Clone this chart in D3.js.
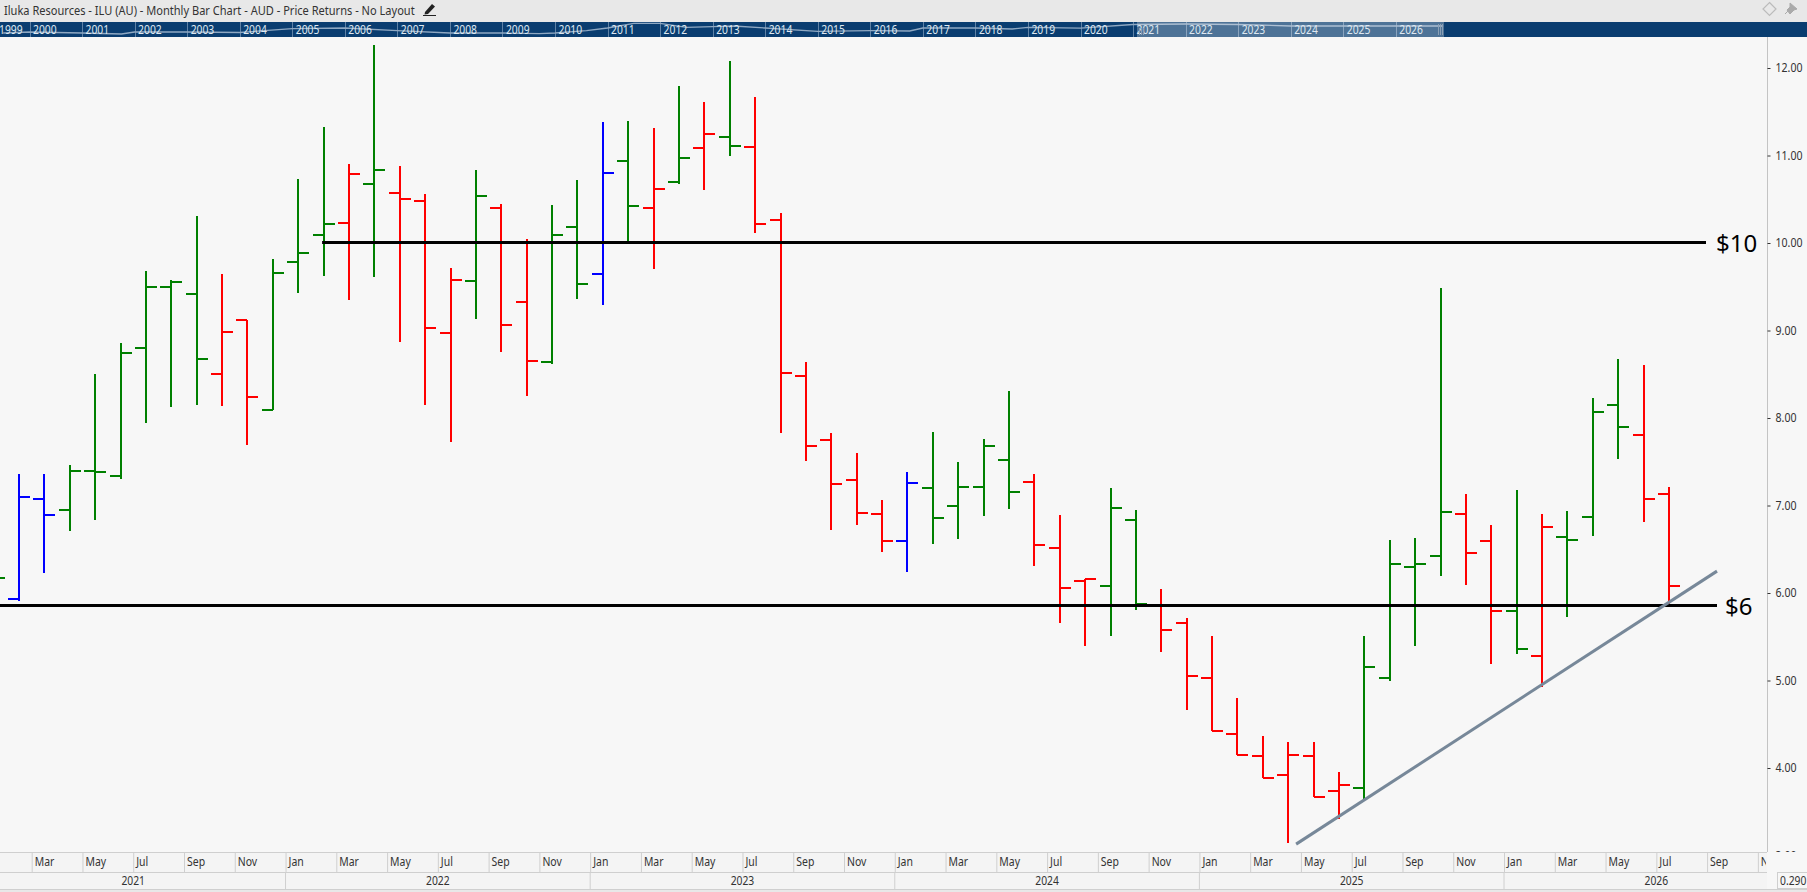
<!DOCTYPE html>
<html>
<head>
<meta charset="utf-8">
<script src="https://cdn.jsdelivr.net/npm/d3@7"></script>
<style>
  html, body { margin: 0; padding: 0; background: #e8e8e8; overflow: hidden; }
  svg { display: block; font-family: "Noto Sans", "Open Sans", sans-serif; }
</style>
</head>
<body>
<svg id="chart" width="1807" height="892"></svg>
<script>
// Iluka Resources monthly OHLC, first entry is Jan 2021, last is Jul 2026.
const opens = [5.95,5.93,7.07,6.95,7.39,7.34,8.80,9.50,9.42,8.50,9.12,8.09,9.78,10.09,10.23,10.67,10.57,10.48,8.97,9.56,10.40,9.33,8.64,10.18,9.65,10.94,10.40,10.70,11.09,11.21,11.10,10.26,8.48,7.75,7.29,6.90,6.60,7.20,6.99,7.21,7.52,7.27,6.51,6.14,6.08,6.83,5.86,5.66,5.03,4.39,4.14,3.92,4.14,3.74,3.77,5.03,6.30,6.42,6.90,6.59,5.79,5.28,6.64,6.87,8.15,7.81,7.13];
const highs = [6.40,7.36,7.36,7.46,8.50,8.86,9.68,9.58,10.31,9.65,9.12,9.82,10.73,11.33,10.90,12.26,10.88,10.56,9.71,10.83,10.45,10.05,10.43,10.72,11.38,11.39,11.31,11.79,11.61,12.08,11.67,10.34,8.64,7.83,7.60,7.06,7.38,7.84,7.50,7.76,8.31,7.36,6.89,6.16,7.20,6.95,6.05,5.71,5.51,4.80,4.37,4.30,4.30,3.95,5.51,6.61,6.63,9.49,7.13,6.78,7.18,6.90,6.94,8.23,8.68,8.61,7.21];
const lows = [5.70,5.91,6.23,6.71,6.83,7.30,7.94,8.13,8.15,8.14,7.69,8.09,9.43,9.62,9.35,9.61,8.87,8.15,7.73,9.13,8.75,8.25,8.62,9.36,9.29,10.02,9.70,10.67,10.61,11.00,10.11,7.83,7.51,6.72,6.78,6.47,6.24,6.56,6.62,6.88,6.96,6.31,5.66,5.40,5.51,5.81,5.33,4.66,4.42,4.15,3.89,3.14,3.67,3.42,3.65,4.99,5.39,6.20,6.09,5.19,5.30,4.93,5.73,6.65,7.53,6.81,5.88];
const closes = [6.17,7.10,6.89,7.39,7.38,8.74,9.50,9.55,8.67,8.98,8.24,9.66,9.89,10.22,10.79,10.83,10.50,9.03,9.58,10.54,9.06,8.65,10.09,9.53,10.80,10.42,10.62,10.97,11.25,11.11,10.22,8.52,7.68,7.25,6.91,6.60,7.26,6.86,7.21,7.68,7.15,6.55,6.06,6.16,6.97,5.87,5.58,5.05,4.42,4.15,3.89,4.15,3.67,3.81,5.15,6.33,6.33,6.93,6.46,5.79,5.36,6.75,6.61,8.07,7.90,7.07,6.08];
const colorKeys = ["g","b","b","g","g","g","g","g","g","r","r","g","g","g","r","g","r","r","r","g","r","r","g","g","b","g","r","g","r","g","r","r","r","r","r","r","b","g","g","g","g","r","r","r","g","g","r","r","r","r","r","r","r","r","g","g","g","g","r","r","g","r","g","g","g","r","r"];

const priceTicks = [3,4,5,6,7,8,9,10,11,12];
const navYears = d3.range(1999, 2027);
const monthNames = ["Jan","Feb","Mar","Apr","May","Jun","Jul","Aug","Sep","Oct","Nov","Dec"];
const calendarYears = [2021,2022,2023,2024,2025,2026];
const levelLines = [
  {price: 10, from: 13.44, to: 1706, label: "$10", labelX: 1716},
  {price: 5.85, from: -3, to: 1717, label: "$6", labelX: 1725}
];
const trend = [{m: 51.81, price: 3.13}, {m: 68.39, price: 6.25}];
// Overview strip: long-run price path as [year, level]
const navTimes = [1999.5,2000,2001,2001.75,2002,2003,2004,2005,2006,2007,2008,2009,2009.7,2010,2010.6,2011,2011.5,2012,2012.5,2013,2013.4,2014,2015,2016,2016.75,2017,2018,2018.7,2019,2020,2021,2022,2023,2024,2025,2026,2026.9];
const navLevels = [4,5,4,3,5,5,4.5,8.3,9,6.3,4,4,3.4,4,6.3,9,13.7,13.7,9.7,10.3,11,9,5.7,6.3,6,9,9,8,9.7,8.8,12.5,13,12.5,11,11,11,11];

const palette = {g: "#008000", r: "#ff0000", b: "#0000ff"};
const W = 1807, H = 892;
const plotTop = 37, plotBottom = 852, axisX = 1767;

const svg = d3.select("#chart");
const x = d3.scaleLinear().domain([0, 12]).range([-19.08, 285.54]);   // months since Jan 2021, slot edges
const y = d3.scaleLinear().domain([4, 12]).range([768, 68]);
const navX = d3.scaleLinear().domain([2000, 2026]).range([29.5, 1395.8]);
const navY = d3.scaleLinear().domain([0, 15]).range([37, 22]);

// Squeeze a label horizontally so small text keeps its height but sits narrow
function narrow(sel, factor) {
  sel.each(function () {
    const w = this.getComputedTextLength();
    d3.select(this).attr("textLength", (w * factor).toFixed(1)).attr("lengthAdjust", "spacingAndGlyphs");
  });
}

// Page chrome
svg.append("rect").attr("width", W).attr("height", H).attr("fill", "#e8e8e8");
svg.append("rect").attr("y", plotTop).attr("width", axisX).attr("height", plotBottom - plotTop).attr("fill", "#f7f7f7");
svg.append("rect").attr("x", axisX).attr("y", plotTop).attr("width", W - axisX).attr("height", 852).attr("fill", "#f7f7f7");

svg.append("text").attr("x", 4).attr("y", 15).attr("font-size", 12.5).attr("fill", "#333")
  .text("Iluka Resources - ILU (AU) - Monthly Bar Chart - AUD - Price Returns - No Layout")
  .call(narrow, 0.884);

// Pencil beside the title and the two toolbar glyphs on the right
const icons = svg.append("g").attr("fill", "none");
icons.append("path").attr("d", "M425 12 L432 4 L435 6.5 L428 14 L424.5 14.5 Z").attr("fill", "#222");
icons.append("path").attr("d", "M423 15.5 H436").attr("stroke", "#222").attr("stroke-width", 1);
icons.append("path").attr("d", "M1769.5 2.5 L1776 9 L1769.5 15.5 L1763 9 Z").attr("stroke", "#bbb").attr("stroke-width", 1.2);
icons.append("path").attr("d", "M1785 14 L1789 10 M1790 3 L1797 9 L1794 10 L1790 14 L1787 10 L1790 7 Z").attr("stroke", "#aaa").attr("fill", "#aaa");

// Overview strip across the full price history
const nav = svg.append("g");
nav.append("rect").attr("y", 22).attr("width", W).attr("height", 15).attr("fill", "#0a3d70");
nav.selectAll("line.yr").data(navYears.slice(1)).join("line").attr("class", "yr")
  .attr("x1", d => Math.round(navX(d)) + .5).attr("x2", d => Math.round(navX(d)) + .5).attr("y1", 22).attr("y2", 37)
  .attr("stroke", "#5f82a6").attr("stroke-width", 1);
nav.append("path")
  .datum(navTimes.map((t, i) => [t, navLevels[i]]))
  .attr("fill", "none").attr("stroke", "#8fa8c2").attr("stroke-width", 1.3)
  .attr("d", d3.line().x(d => navX(d[0])).y(d => navY(d[1])));
nav.append("rect").attr("x", 1137).attr("y", 22).attr("width", 307).attr("height", 15)
  .attr("fill", "#ffffff").attr("opacity", 0.28);
nav.selectAll("text").data(navYears).join("text")
  .attr("x", d => d === 1999 ? -1 : navX(d) + 3.5).attr("y", 33.5).attr("font-size", 12).attr("fill", "#dfe8f1")
  .text(d => d)
  .call(narrow, 0.86);
nav.selectAll("line.grip").data([1139, 1141, 1143, 1438, 1440, 1442]).join("line").attr("class", "grip")
  .attr("x1", d => d + .5).attr("x2", d => d + .5).attr("y1", d => d < 1200 ? 28 : 24).attr("y2", 35).attr("stroke", "#8a9fb5");

// Price bars: left tick is the open, right tick the close
svg.append("clipPath").attr("id", "plot").append("rect")
  .attr("y", plotTop).attr("width", axisX).attr("height", plotBottom - plotTop);
const plot = svg.append("g").attr("clip-path", "url(#plot)");
const bars = opens.map((o, i) => ({m: i + 0.5, o, h: highs[i], l: lows[i], c: closes[i], key: colorKeys[i]}));

const bar = plot.selectAll("g.bar").data(bars).join("g").attr("class", "bar")
  .attr("stroke", d => palette[d.key]).attr("stroke-width", 2).attr("shape-rendering", "crispEdges");
bar.append("line")
  .attr("x1", d => Math.round(x(d.m))).attr("x2", d => Math.round(x(d.m)))
  .attr("y1", d => y(d.h)).attr("y2", d => y(d.l));
bar.append("line")
  .attr("x1", d => Math.round(x(d.m)) - 11).attr("x2", d => Math.round(x(d.m)))
  .attr("y1", d => Math.round(y(d.o))).attr("y2", d => Math.round(y(d.o)));
bar.append("line")
  .attr("x1", d => Math.round(x(d.m))).attr("x2", d => Math.round(x(d.m)) + 11)
  .attr("y1", d => Math.round(y(d.c))).attr("y2", d => Math.round(y(d.c)));

// Horizontal levels with their captions
plot.selectAll("line.level").data(levelLines).join("line").attr("class", "level")
  .attr("x1", d => x(d.from)).attr("x2", d => d.to)
  .attr("y1", d => Math.round(y(d.price)) - .5).attr("y2", d => Math.round(y(d.price)) - .5)
  .attr("stroke", "#000").attr("stroke-width", 3);
svg.selectAll("text.level").data(levelLines).join("text").attr("class", "level")
  .attr("x", d => d.labelX).attr("y", d => y(d.price) + 9)
  .attr("font-size", 24).attr("fill", "#000").text(d => d.label);

// Rising support line
plot.append("line")
  .attr("x1", x(trend[0].m)).attr("y1", y(trend[0].price))
  .attr("x2", x(trend[1].m)).attr("y2", y(trend[1].price))
  .attr("stroke", "#778899").attr("stroke-width", 3);

// Price axis, cut off where the date rows begin
svg.append("clipPath").attr("id", "priceClip").append("rect")
  .attr("x", axisX).attr("y", plotTop).attr("width", W - axisX).attr("height", plotBottom - plotTop);
const yAxis = d3.axisRight(y).tickValues(priceTicks).tickFormat(d3.format(".2f")).tickSize(3).tickPadding(5);
const yG = svg.append("g").attr("clip-path", "url(#priceClip)").append("g")
  .attr("transform", `translate(${axisX + 0.5},0)`).call(yAxis);
yG.select(".domain").attr("d", `M0,${plotTop}V${plotBottom}`).attr("stroke", "#c4c4c4");
yG.selectAll(".tick line").attr("stroke", "#333");
yG.selectAll(".tick text").attr("font-size", 12).attr("fill", "#333").attr("font-family", "Noto Sans").call(narrow, 0.88);

// Date axis: month row and year row
const rowTop = 852, rowMid = 872, rowEnd = 889;
svg.append("rect").attr("y", rowTop).attr("width", axisX).attr("height", rowEnd - rowTop).attr("fill", "#f4f4f4");
[[rowTop, axisX], [rowMid, axisX], [rowEnd, W]].forEach(([r, end]) => {
  svg.append("line").attr("x1", 0).attr("x2", end).attr("y1", r + .5).attr("y2", r + .5).attr("stroke", "#cfcfcf");
});
const monthTicks = d3.range(0, 72, 2);
const monthAxis = d3.axisBottom(x).tickValues(monthTicks).tickSize(20).tickFormat(() => "");
const mG = svg.append("g").attr("transform", `translate(0,${rowTop})`).call(monthAxis);
mG.select(".domain").remove();
mG.selectAll(".tick line").attr("stroke", "#cfcfcf");
svg.append("clipPath").attr("id", "monthClip").append("rect").attr("y", rowTop).attr("width", axisX - 1).attr("height", 20);
const monthRow = svg.append("g").attr("clip-path", "url(#monthClip)");
monthRow.selectAll("text").data(monthTicks).join("text")
  .attr("x", d => x(d) + 3).attr("y", rowTop + 14).attr("font-size", 12).attr("fill", "#333")
  .text(d => monthNames[d % 12])
  .call(narrow, 0.87);

const yearRow = svg.append("g");
yearRow.selectAll("line").data(calendarYears).join("line")
  .attr("x1", d => x((d - 2021) * 12)).attr("x2", d => x((d - 2021) * 12))
  .attr("y1", rowMid).attr("y2", rowEnd).attr("stroke", "#cfcfcf");
yearRow.selectAll("text").data(calendarYears).join("text")
  .attr("x", d => x((d - 2021) * 12 + 6))
  .attr("y", rowMid + 13).attr("text-anchor", "middle").attr("font-size", 12).attr("fill", "#333")
  .text(d => d)
  .call(narrow, 0.86);

// Scale readout in the corner
svg.append("rect").attr("x", 1777.5).attr("y", 872.5).attr("width", 34).attr("height", 16)
  .attr("fill", "#f7f7f7").attr("stroke", "#cfcfcf");
svg.append("text").attr("x", 1780).attr("y", 885).attr("font-size", 12).attr("fill", "#333").text("0.290")
  .call(narrow, 0.86);
</script>
</body>
</html>
